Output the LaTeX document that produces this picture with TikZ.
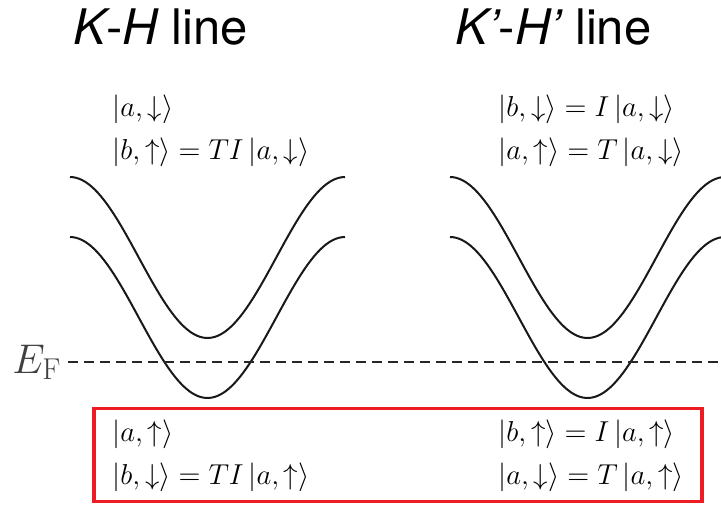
\documentclass[tikz,border=0pt]{standalone}
\usepackage{amsmath,amssymb}
\usepackage{fontspec}
\newfontfamily\heros{TeX Gyre Heros}
\usetikzlibrary{positioning,calc}
\definecolor{boxred}{HTML}{ED1C24}

\begin{document}
\begin{tikzpicture}[x=0.5pt,y=-0.5pt,
      title/.style={anchor=base west,inner sep=0,font=\heros\fontsize{24.5}{28}\selectfont},
      ket/.style={anchor=west,inner sep=0,font=\fontsize{15.6}{18}\selectfont},
      band/.style={line width=1pt,black!90},
      fermi/.style={line width=0.75pt,black!85,dash pattern=on 5pt off 3pt},
      redbox/.style={draw=boxred,line width=1.75pt}]
    \clip (0,0) rectangle (721,504);
    % titles
    \node[title] (kh) at (73,44) {{\itshape K}-{\itshape H} line};
    \node[title] (khp) at (455,44) {{\itshape K’}-{\itshape H’} line};
    % states above the bands
    \node[ket] (adn) at (112,109) {$|a,\downarrow\rangle$};
    \node[ket] (bup) at (112,152) {$|b,\uparrow\rangle = TI\,|a,\downarrow\rangle$};
    \node[ket] (bdn) at (498,109) {$|b,\downarrow\rangle = I\,|a,\downarrow\rangle$};
    \node[ket] (aup) at (498,152) {$|a,\uparrow\rangle = T\,|a,\downarrow\rangle$};
    % bands
    \foreach \xs in {70,450}
      \foreach \yt in {177,237}
        \draw[band] plot[domain=0:360,samples=90]
          ({\xs+\x/360*275},{\yt+80.5*(1-cos(\x))});
    % Fermi level
    \node[anchor=west,inner sep=0,text=black!75,font=\fontsize{21.5}{24}\selectfont]
      (ef) at (12,362) {$E_{\mathrm{F}}$};
    \coordinate (efstart) at (68,362);
    \coordinate (efend) at (721,362);
    \draw[fermi] (efstart) -- (efend);
    % states below the Fermi level
    \draw[redbox] (94,408.5) rectangle (702,501.5);
    \node[ket] (aupb) at (112,434) {$|a,\uparrow\rangle$};
    \node[ket] (bdnb) at (112,477) {$|b,\downarrow\rangle = TI\,|a,\uparrow\rangle$};
    \node[ket] (bupb) at (498,434) {$|b,\uparrow\rangle = I\,|a,\uparrow\rangle$};
    \node[ket] (adnb) at (498,477) {$|a,\downarrow\rangle = T\,|a,\uparrow\rangle$};
  \end{tikzpicture}
\end{document}
